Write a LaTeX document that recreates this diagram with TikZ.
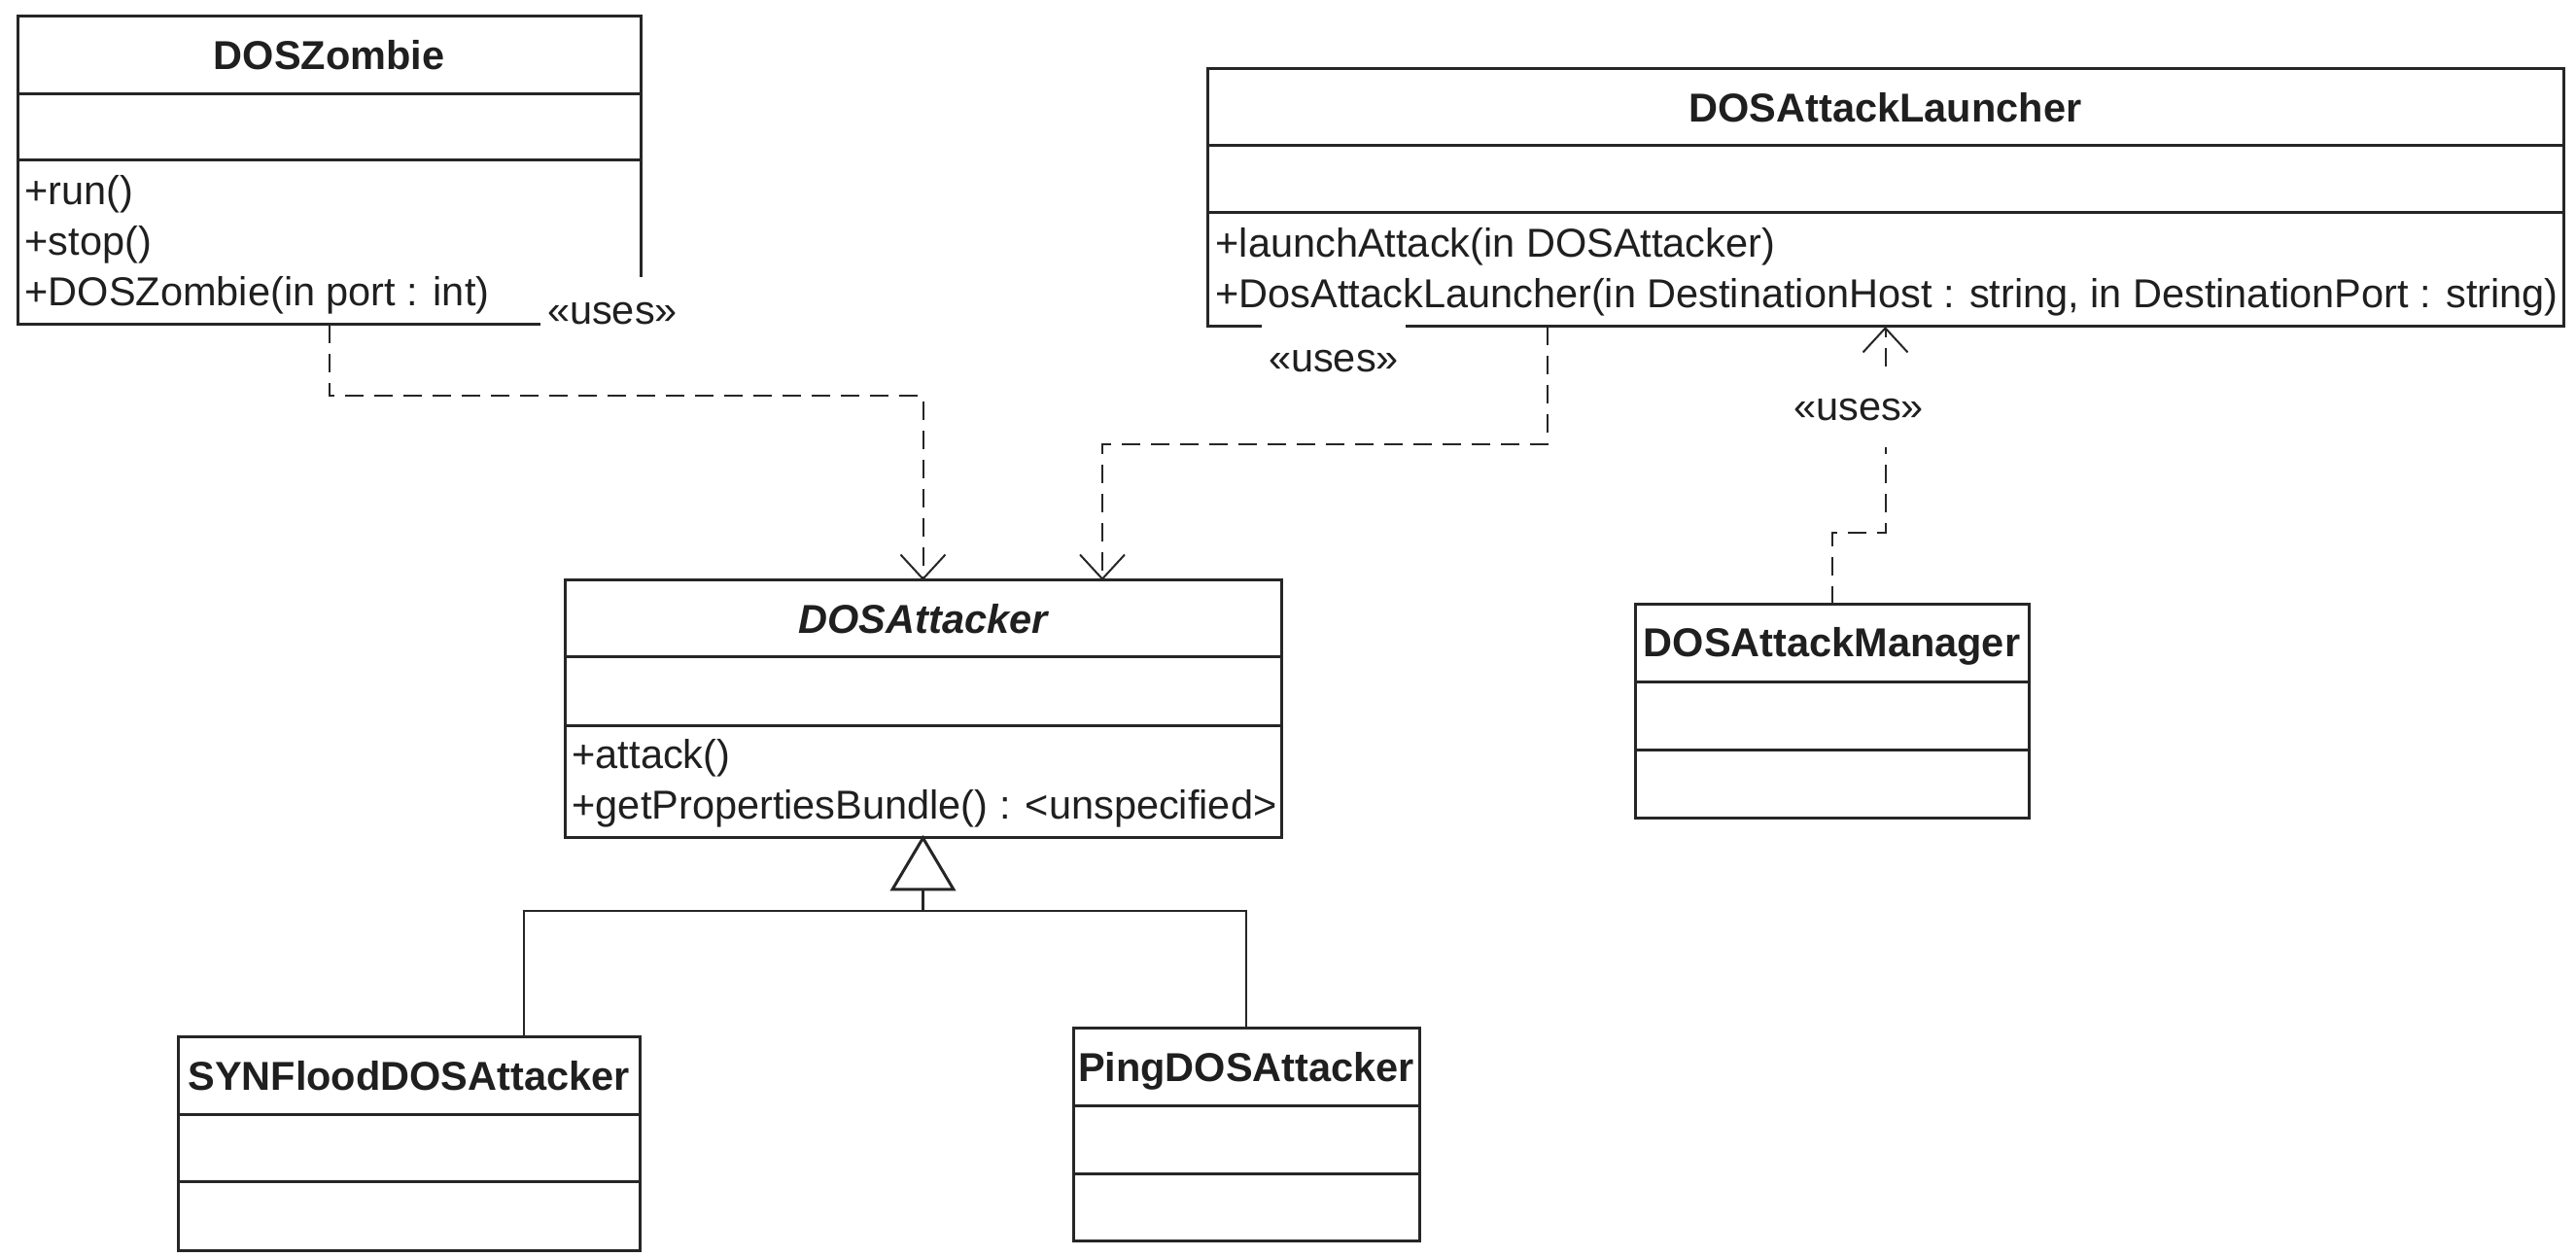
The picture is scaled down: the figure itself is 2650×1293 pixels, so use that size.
\documentclass[tikz,border=0pt]{standalone}
\usepackage{fontspec}
\setmainfont{Liberation Sans}
\usetikzlibrary{arrows.meta,calc}
\begin{document}
\begin{tikzpicture}[x=0.3pt,y=-0.3pt,
  every node/.style={font=\fontsize{12.45pt}{15pt}\selectfont, text=black!88},
  classbox/.style={draw=black!85, line width=0.9pt, inner sep=0pt, outer sep=0pt, anchor=north west, rectangle},
  sepline/.style={draw=black!85, line width=0.9pt},
  cname/.style={anchor=base, inner sep=0pt, font=\fontsize{12.45pt}{15pt}\selectfont\bfseries},
  optext/.style={anchor=base west, inner sep=0pt},
  dep/.style={draw=black!85, line width=0.6pt, dash pattern=on 5.7pt off 3.3pt, -{Straight Barb[length=7.5pt,width=13.8pt]}},
  gen/.style={draw=black!85, line width=0.75pt},
  uselabel/.style={fill=white, inner xsep=2.1pt, inner ysep=0pt, minimum height=22.8pt},
]
\useasboundingbox[fill=white] (0,0) rectangle (2650,1293);

% ---------- DOSZombie ----------
\node[classbox, minimum width=192.3pt, minimum height=95.1pt] (zombie) at (18,17) {};
\draw[sepline] ($(zombie.north west)+(0,80)$) -- ($(zombie.north east)+(0,80)$);
\draw[sepline] ($(zombie.north west)+(0,148)$) -- ($(zombie.north east)+(0,148)$);
\node[cname] (zombieN) at ($(zombie.north)+(0,55)$) {DOSZombie};
\node[optext] (zombieO1) at ($(zombie.north west)+(7,194)$) {+run()};
\node[optext] (zombieO2) at ($(zombie.north west)+(7,246)$) {+stop()};
\node[optext] (zombieO3) at ($(zombie.north west)+(7,298)$) {+DOSZombie(in port : int)};

% ---------- DOSAttackLauncher ----------
\node[classbox, minimum width=418.5pt, minimum height=79.5pt] (launcher) at (1242,71) {};
\draw[sepline] ($(launcher.north west)+(0,79)$) -- ($(launcher.north east)+(0,79)$);
\draw[sepline] ($(launcher.north west)+(0,148)$) -- ($(launcher.north east)+(0,148)$);
\node[cname] (launcherN) at ($(launcher.north)+(0,55)$) {DOSAttackLauncher};
\node[optext] (launcherO1) at ($(launcher.north west)+(8,194)$) {+launchAttack(in DOSAttacker)};
\node[optext] (launcherO2) at ($(launcher.north west)+(8,246)$) {+DosAttackLauncher(in DestinationHost : string, in DestinationPort : string)};

% ---------- DOSAttacker ----------
\node[classbox, minimum width=221.1pt, minimum height=79.5pt] (attacker) at (581,597) {};
\draw[sepline] ($(attacker.north west)+(0,79)$) -- ($(attacker.north east)+(0,79)$);
\draw[sepline] ($(attacker.north west)+(0,150)$) -- ($(attacker.north east)+(0,150)$);
\node[cname, font=\fontsize{12.45pt}{15pt}\selectfont\bfseries\itshape] (attackerN) at ($(attacker.north)+(0,55)$) {DOSAttacker};
\node[optext] (attackerO1) at ($(attacker.north west)+(7,194)$) {+attack()};
\node[optext] (attackerO2) at ($(attacker.north west)+(7,246)$) {+getPropertiesBundle() : <unspecified>};

% ---------- DOSAttackManager ----------
\node[classbox, minimum width=121.5pt, minimum height=66pt] (manager) at (1682,622) {};
\draw[sepline] ($(manager.north west)+(0,80)$) -- ($(manager.north east)+(0,80)$);
\draw[sepline] ($(manager.north west)+(0,150)$) -- ($(manager.north east)+(0,150)$);
\node[cname] (managerN) at ($(manager.north)+(0,54)$) {DOSAttackManager};

% ---------- SYNFloodDOSAttacker ----------
\node[classbox, minimum width=142.5pt, minimum height=66pt] (syn) at (183,1067) {};
\draw[sepline] ($(syn.north west)+(0,80)$) -- ($(syn.north east)+(0,80)$);
\draw[sepline] ($(syn.north west)+(0,149)$) -- ($(syn.north east)+(0,149)$);
\node[cname] (synN) at ($(syn.north)+(0,55)$) {SYNFloodDOSAttacker};

% ---------- PingDOSAttacker ----------
\node[classbox, minimum width=106.8pt, minimum height=65.7pt] (ping) at (1104,1058) {};
\draw[sepline] ($(ping.north west)+(0,80)$) -- ($(ping.north east)+(0,80)$);
\draw[sepline] ($(ping.north west)+(0,150)$) -- ($(ping.north east)+(0,150)$);
\node[cname] (pingN) at ($(ping.north)+(0,55)$) {PingDOSAttacker};

% ---------- dependencies ----------
\draw[dep] (zombie.south) -- ++(0,73) -| (attacker.north);
\draw[dep] ($(launcher.south)+(-347.5,0)$) -- ++(0,121) -| ($(attacker.north)+(184.5,0)$);
\draw[dep] (manager.north) -- ++(0,-74) -| (launcher.south);

% ---------- generalization ----------
\coordinate (gj) at ($(attacker.south)+(0,75)$);
\draw[gen] ($(syn.north)+(118.5,0)$) |- (gj) -| (ping.north);
\draw[gen] (gj) -- ($(attacker.south)+(0,53)$);
\draw[gen, line width=0.9pt, fill=white] (attacker.south) -- ++(-31.5,53) -- ++(63,0) -- cycle;

% ---------- labels ----------
\node[uselabel] (lblA) at (630,323) {«uses»};
\node[uselabel] (lblB) at (1372,372) {«uses»};
\node[uselabel] (lblC) at (1912,422) {«uses»};
\end{tikzpicture}
\end{document}
